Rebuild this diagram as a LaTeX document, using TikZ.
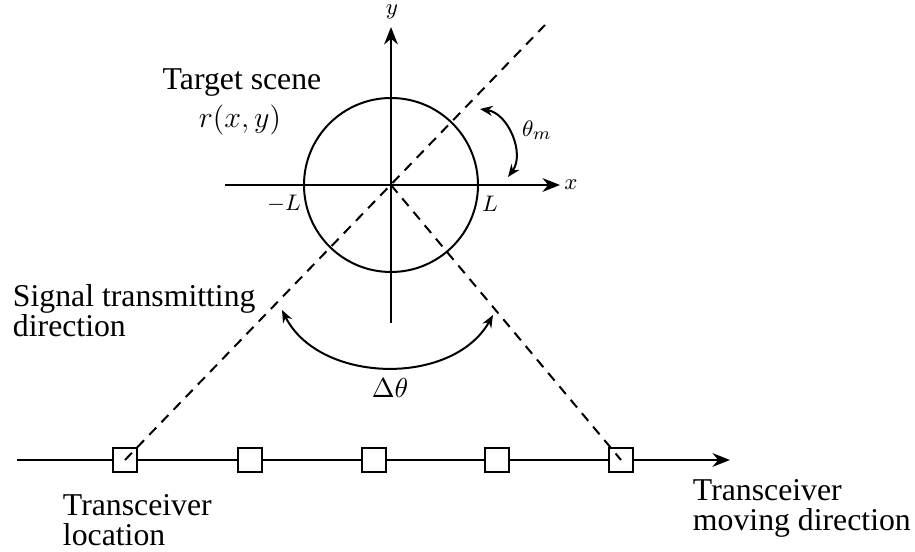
\documentclass[tikz,border=0pt]{standalone}
\usepackage[no-math]{fontspec}
\setmainfont{Liberation Serif}[Ligatures=TeX]
\usetikzlibrary{arrows.meta,positioning}

\begin{document}
\begin{tikzpicture}[x=0.4pt, y=0.4pt, line width=0.8pt,
  every node/.style={font=\rmfamily\fontsize{12.7}{12}\selectfont},
  axis/.style={-{Stealth[length=7pt,width=5.5pt]}},
  ray/.style={dash pattern=on 4pt off 3pt},
  sweep/.style={{Stealth[length=5pt,width=4pt]}-{Stealth[length=5pt,width=4pt]}},
  antenna/.style={draw, line width=1pt, fill=white, minimum size=9.6pt, inner sep=0pt},
  tag/.style={font=\fontsize{9.5}{10}\selectfont, inner sep=0pt},
  note/.style={align=left, anchor=north west, inner sep=0pt}]
\useasboundingbox (-391,-367) rectangle (524,185);

% target scene with its axes
\coordinate (O) at (0,0);
\coordinate (xstart) at (-166,0);
\coordinate (xend) at (169,0);
\coordinate (ystart) at (0,-138);
\coordinate (yend) at (0,158);
\draw[axis] (xstart) -- (xend);
\draw[axis] (ystart) -- (yend);
\node[tag] (xlab) at (180,0) {$x$};
\node[tag] (ylab) at (1,173) {$y$};
\draw (O) circle[radius=87];
\node[tag] (Lpos) at (99,-19) {$L$};
\node[tag] (Lneg) at (-107,-19) {$-L$};
\node[anchor=base] (scene) at (-149,95) {Target scene};
\node (refl) at (-151,65) {$r(x,y)$};

% transceiver track
\coordinate (track0) at (-374,-275);
\coordinate (trackend) at (339,-275);
\foreach \i/\x in {1/-266,2/-141,3/-17,4/106,5/230}
  \node[antenna] (tx\i) at (\x,-275) {};
\draw[axis] (track0) -- (tx1) -- (tx2) -- (tx3) -- (tx4) -- (tx5) -- (trackend);

% signal directions
\coordinate (rayend) at (154,160);
\draw[ray] (tx1.center) -- (rayend);
\draw[ray] (O) -- (tx5.center);

% angles
\coordinate (dtL) at (-109,-125);
\coordinate (dtR) at (102,-130);
\draw[sweep] (dtL) to[bend right=62] (dtR);
\node[font=\fontsize{10.5}{11}\selectfont] (dtheta) at (-1,-203) {$\Delta\theta$};
\coordinate (thA) at (89,76);
\coordinate (thB) at (117,8);
\draw[sweep] (thA) to[bend left=59] (thB);
\node[tag] (thetam) at (146,55) {$\theta_m$};

% captions
\node[note] (signal) at (-379,-98) {Signal transmitting\\direction};
\node[note] (txloc) at (-329,-308) {Transceiver\\location};
\node[note] (txmove) at (301,-293) {Transceiver\\moving direction};
\end{tikzpicture}
\end{document}
